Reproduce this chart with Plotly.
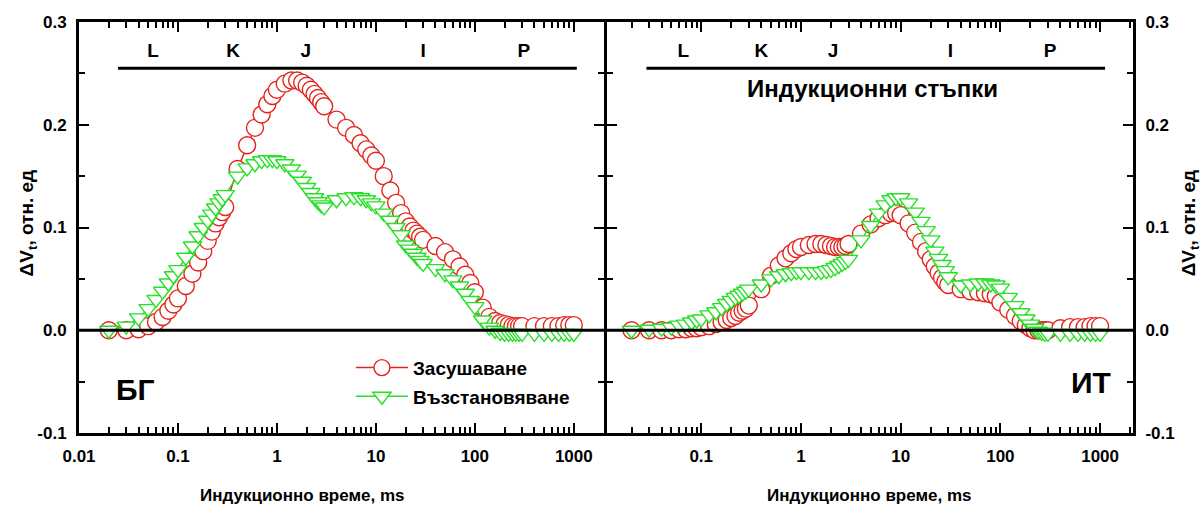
import plotly.graph_objects as go

# Sampling times of the fluorescence transient, ms
t_ms = [0.02, 0.03, 0.04, 0.05, 0.06, 0.07, 0.08, 0.09, 0.10, 0.12, 0.14, 0.16, 0.18, 0.20, 0.22, 0.24, 0.26, 0.28, 0.30,
        0.4, 0.5, 0.6, 0.7, 0.8, 0.9, 1.0, 1.2, 1.4, 1.6, 1.8, 2.0, 2.2, 2.4, 2.6, 2.8, 3.0,
        4, 5, 6, 7, 8, 9, 10, 12, 14, 16, 18, 20, 22, 24, 26, 28, 30,
        40, 50, 60, 70, 80, 90, 100, 120, 140, 160, 180, 200, 220, 240, 260, 280, 300,
        400, 500, 600, 700, 800, 900, 1000]

# БГ: difference kinetics ΔVt
bg_drought = [0.000, 0.000, 0.001, 0.004, 0.008, 0.013, 0.019, 0.025, 0.031, 0.043, 0.055, 0.066, 0.077, 0.087, 0.096, 0.104, 0.110, 0.115, 0.120,
              0.157, 0.180, 0.197, 0.210, 0.220, 0.228, 0.234, 0.240, 0.243, 0.243, 0.241, 0.238, 0.234, 0.230, 0.226, 0.222, 0.218,
              0.205, 0.197, 0.190, 0.182, 0.176, 0.170, 0.165, 0.150, 0.136, 0.124, 0.114, 0.106, 0.101, 0.097, 0.094, 0.091, 0.088,
              0.082, 0.076, 0.069, 0.062, 0.054, 0.046, 0.037, 0.022, 0.013, 0.009, 0.007, 0.006, 0.005, 0.004, 0.004, 0.004, 0.004,
              0.004, 0.004, 0.004, 0.004, 0.005, 0.005, 0.005]
bg_recovery = [0.000, 0.004, 0.012, 0.021, 0.030, 0.038, 0.046, 0.053, 0.059, 0.071, 0.082, 0.092, 0.100, 0.107, 0.113, 0.119, 0.124, 0.128, 0.132,
               0.150, 0.158, 0.162, 0.165, 0.166, 0.166, 0.165, 0.162, 0.157, 0.151, 0.145, 0.139, 0.134, 0.129, 0.125, 0.122, 0.120,
               0.127, 0.129, 0.130, 0.129, 0.127, 0.124, 0.121, 0.114, 0.107, 0.100, 0.093, 0.083, 0.079, 0.075, 0.071, 0.068, 0.065,
               0.060, 0.055, 0.049, 0.043, 0.036, 0.029, 0.023, 0.010, 0.003, 0.000, -0.002, -0.003, -0.003, -0.003, -0.003, -0.003, -0.003,
               -0.003, -0.003, -0.003, -0.003, -0.003, -0.003, -0.003]

# ИТ: difference kinetics ΔVt
it_drought = [0.000, 0.000, 0.000, 0.000, 0.001, 0.001, 0.002, 0.002, 0.003, 0.004, 0.006, 0.008, 0.010, 0.012, 0.014, 0.017, 0.019, 0.021, 0.024,
              0.040, 0.053, 0.063, 0.070, 0.075, 0.079, 0.081, 0.083, 0.084, 0.084, 0.083, 0.082, 0.081, 0.081, 0.081, 0.082, 0.084,
              0.094, 0.103, 0.109, 0.112, 0.114, 0.114, 0.112, 0.104, 0.095, 0.086, 0.077, 0.069, 0.062, 0.056, 0.051, 0.047, 0.044,
              0.040, 0.038, 0.037, 0.036, 0.035, 0.033, 0.027, 0.020, 0.014, 0.009, 0.005, 0.002, 0.000, 0.000, 0.000, 0.000, 0.000,
              0.002, 0.003, 0.003, 0.003, 0.004, 0.004, 0.004]
it_recovery = [0.000, 0.001, 0.002, 0.003, 0.005, 0.006, 0.008, 0.010, 0.011, 0.015, 0.018, 0.022, 0.026, 0.029, 0.032, 0.034, 0.036, 0.038, 0.040,
               0.045, 0.050, 0.053, 0.055, 0.056, 0.057, 0.057, 0.057, 0.057, 0.057, 0.058, 0.059, 0.061, 0.063, 0.065, 0.067, 0.069,
               0.088, 0.102, 0.114, 0.122, 0.127, 0.129, 0.129, 0.124, 0.115, 0.106, 0.097, 0.088, 0.077, 0.070, 0.064, 0.058, 0.052,
               0.044, 0.045, 0.046, 0.046, 0.045, 0.044, 0.041, 0.032, 0.024, 0.017, 0.011, 0.006, 0.002, -0.001, -0.002, -0.003, -0.003,
               -0.003, -0.003, -0.003, -0.003, -0.003, -0.003, -0.003]

# OJIP step marks above the curves
step_names = ["L", "K", "J", "I", "P"]
step_t_bg = [0.056, 0.36, 1.96, 30, 313]
step_t_it = [0.066, 0.40, 2.1, 31.6, 316]
step_bar_bg = [0.0248, 1072]
step_bar_it = [0.0282, 1122]
step_level = 0.255
step_text_level = 0.271

series_names = ["Засушаване", "Възстановяване"]
x_ticks = [0.01, 0.1, 1, 10, 100, 1000]
x_tick_text = ["0.01", "0.1", "1", "10", "100", "1000"]
y_ticks = [-0.1, 0.0, 0.1, 0.2, 0.3]
y_tick_text = ["-0.1", "0.0", "0.1", "0.2", "0.3"]

RED = "#e3241c"
GREEN = "#27e027"
FONT = "Liberation Sans, Arial, sans-serif"

fig = go.Figure()

panels = [("x", "y", bg_drought, bg_recovery, step_t_bg, step_bar_bg, True),
          ("x2", "y2", it_drought, it_recovery, step_t_it, step_bar_it, False)]

for xa, ya, dr, rc, st, bar, show in panels:
    fig.add_trace(go.Scatter(
        x=t_ms, y=dr, xaxis=xa, yaxis=ya, mode="lines+markers", name=series_names[0],
        showlegend=show, legendgroup="a",
        line=dict(color=RED, width=1.5),
        marker=dict(symbol="circle", size=17, color="white", line=dict(width=1.4, color=RED))))
    fig.add_trace(go.Scatter(
        x=t_ms, y=rc, xaxis=xa, yaxis=ya, mode="lines+markers", name=series_names[1],
        showlegend=show, legendgroup="b",
        line=dict(color=GREEN, width=1.5),
        marker=dict(symbol="triangle-down", size=16, color="white", line=dict(width=1.4, color=GREEN))))
    fig.add_trace(go.Scatter(
        x=bar, y=[step_level, step_level], xaxis=xa, yaxis=ya, mode="lines",
        showlegend=False, hoverinfo="skip", line=dict(color="black", width=3)))
    fig.add_trace(go.Scatter(
        x=st, y=[step_text_level] * len(st), xaxis=xa, yaxis=ya, mode="text",
        text=step_names, textposition="middle center", showlegend=False, hoverinfo="skip",
        textfont=dict(family=FONT, size=19, color="black", weight="bold")))

axis_common = dict(showline=True, linewidth=3, linecolor="black", mirror="ticks",
                   ticks="inside", ticklen=10, tickwidth=2, tickcolor="black",
                   showgrid=False, zeroline=False, ticklabelstandoff=6,
                   tickfont=dict(family=FONT, size=17, color="black", weight="bold"))

x_common = dict(axis_common, type="log", tickvals=x_ticks, ticktext=x_tick_text,
                minor=dict(ticks="inside", ticklen=6, tickwidth=1.5, tickcolor="black",
                           dtick="D1", showgrid=False))
y_common = dict(axis_common, range=[-0.1, 0.3], tickvals=y_ticks, ticktext=y_tick_text,
                minor=dict(ticks="inside", ticklen=6, tickwidth=2, tickcolor="black",
                           dtick=0.05, tick0=0, showgrid=False))

# panel split: the two axis lines meet on one shared vertical line
plot_w = 1054
left_end = (603.5 - 79) / plot_w
right_start = (606.5 - 79) / plot_w

fig.update_layout(
    width=1204, height=507,
    margin=dict(l=79, r=71, t=22, b=74),
    paper_bgcolor="white", plot_bgcolor="white",
    font=dict(family=FONT, color="black"),
    xaxis=dict(x_common, domain=[0, left_end], range=[-2, 3.3], anchor="y"),
    xaxis2=dict(x_common, domain=[right_start, 1], range=[-1.95, 3.33], anchor="y2"),
    yaxis=dict(y_common, anchor="x"),
    yaxis2=dict(y_common, anchor="x2", side="right"),
    legend=dict(x=0.258, y=0.205, xanchor="left", yanchor="top", itemwidth=52,
                bgcolor="rgba(0,0,0,0)", borderwidth=0, tracegroupgap=1,
                font=dict(family=FONT, size=19, color="black", weight="bold")),
    shapes=[dict(type="line", xref="paper", yref="y", x0=0, x1=1, y0=0, y1=0,
                 line=dict(color="black", width=3), layer="above")],
)

def label(text, x, y, size, xanchor="center", yanchor="middle", angle=0):
    fig.add_annotation(text=text, xref="paper", yref="paper", x=x, y=y,
                       xanchor=xanchor, yanchor=yanchor, showarrow=False, textangle=angle,
                       font=dict(family=FONT, size=size, color="black", weight="bold"))

label("БГ", 0.033, 0.105, 30, xanchor="left")
label("ИТ", 0.981, 0.122, 30, xanchor="right")
label("Индукционни стъпки", 0.7524, 0.839, 24)
label("Индукционно време, ms", 0.212, -0.151, 17)
label("Индукционно време, ms", 0.75, -0.151, 17)
label("ΔV<sub>t</sub>, отн. ед", -0.0484, 0.51, 19, angle=-90)
label("ΔV<sub>t</sub>, отн. ед", 1.054, 0.51, 19, angle=-90)

fig.write_html("out.html")
